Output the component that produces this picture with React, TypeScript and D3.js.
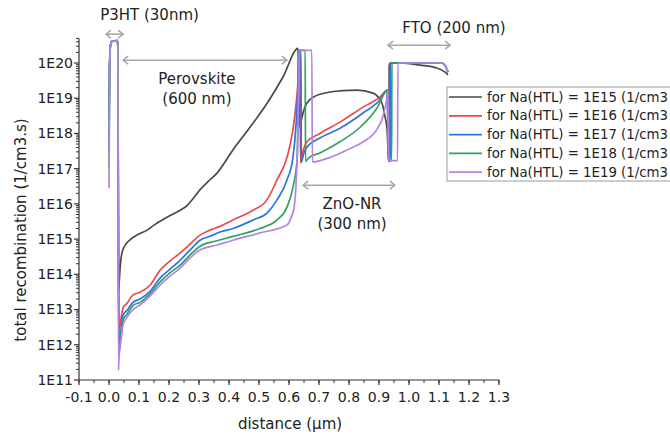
import React from 'react';
import * as d3 from 'd3';

const W = 670;
const H = 437;

const xTickValues = [-0.1, 0.0, 0.1, 0.2, 0.3, 0.4, 0.5, 0.6, 0.7, 0.8, 0.9, 1.0, 1.1, 1.2, 1.3];
const xTickLabels = ['-0.1', '0.0', '0.1', '0.2', '0.3', '0.4', '0.5', '0.6', '0.7', '0.8', '0.9', '1.0', '1.1', '1.2', '1.3'];
const yTickValues = [1e11, 1e12, 1e13, 1e14, 1e15, 1e16, 1e17, 1e18, 1e19, 1e20];
const yTickLabels = ['1E11', '1E12', '1E13', '1E14', '1E15', '1E16', '1E17', '1E18', '1E19', '1E20'];

const seriesLabels = [
  'for Na(HTL) = 1E15 (1/cm3',
  'for Na(HTL) = 1E16 (1/cm3',
  'for Na(HTL) = 1E17 (1/cm3',
  'for Na(HTL) = 1E18 (1/cm3',
  'for Na(HTL) = 1E19 (1/cm3',
];
const seriesColors = ['#4a4a4a', '#f0474a', '#2a76e0', '#2fa35e', '#b583e6'];

type P = [number, number];

const na1e15: P[] = [
  [0.0, 3.8e18], [0.002, 8e19], [0.005, 3.2e20], [0.01, 4.1e20], [0.028, 4.3e20], [0.0295, 3.0e20],
  [0.031, 2e16], [0.032, 3.5e13], [0.034, 6e13], [0.037, 1.5e14], [0.043, 4.0e14], [0.055, 7e14],
  [0.07, 9.5e14], [0.1, 1.4e15], [0.127, 1.8e15], [0.15, 2.5e15], [0.18, 3.6e15], [0.21, 5.0e15],
  [0.237, 6.6e15], [0.26, 9e15], [0.28, 1.4e16], [0.303, 2.5e16], [0.33, 4.3e16], [0.36, 7.5e16],
  [0.413, 3.4e17], [0.47, 1.5e18], [0.527, 7.2e18], [0.58, 4.0e19], [0.63, 2.6e20], [0.633, 1e19],
  [0.636, 1.5e18], [0.642, 2.6e18], [0.653, 5.6e18], [0.68, 1.07e19], [0.737, 1.5e19], [0.78, 1.65e19],
  [0.827, 1.7e19], [0.88, 1.4e19], [0.91, 7.2e18], [0.92, 3.0e18], [0.927, 1.3e18], [0.93, 3.4e17],
  [0.933, 1.6e17], [0.934, 8e19], [0.937, 1e20], [0.97, 1e20], [1.037, 8.7e19], [1.093, 7.2e19],
  [1.12, 5.5e19], [1.13, 4.6e19],
];

const na1e16: P[] = [
  [0.0, 1e18], [0.002, 8e19], [0.005, 3.2e20], [0.01, 4.1e20], [0.028, 4.3e20], [0.0295, 3.0e20],
  [0.031, 1e16], [0.0317, 1.9e12], [0.0367, 3.6e12], [0.0467, 1.1e13], [0.06, 1.5e13], [0.08, 2.6e13],
  [0.1033, 3.1e13], [0.1367, 4.9e13], [0.17, 1.3e14], [0.2033, 2.4e14], [0.2367, 4.0e14], [0.27, 7.2e14],
  [0.3033, 1.3e15], [0.3367, 1.8e15], [0.37, 2.3e15], [0.4133, 3.5e15], [0.48, 6.6e15], [0.5267, 1.3e16],
  [0.56, 4.8e16], [0.5933, 2.1e17], [0.6133, 1.3e18], [0.6233, 6.5e18], [0.63, 3.3e19], [0.6333, 2.3e20],
  [0.637, 2.3e20], [0.638, 1.5e17], [0.645, 2.8e17], [0.66, 5.8e17], [0.703, 1.0e18], [0.77, 2.1e18],
  [0.847, 5.6e18], [0.903, 1.07e19], [0.928, 1.7e19], [0.931, 1.7e17], [0.936, 1.7e17], [0.937, 1e20],
  [1.11, 1e20], [1.12, 8.5e19], [1.13, 5.5e19],
];

const na1e17: P[] = [
  [0.0, 3e17], [0.002, 8e19], [0.005, 3.2e20], [0.01, 4.1e20], [0.028, 4.3e20], [0.0295, 3.0e20],
  [0.031, 1e16], [0.0333, 9.8e11], [0.04, 2.6e12], [0.0467, 6.9e12], [0.06, 9.5e12], [0.08, 1.6e13],
  [0.1033, 2.0e13], [0.1367, 3.3e13], [0.17, 7.8e13], [0.2033, 1.4e14], [0.2367, 2.5e14], [0.27, 4.9e14],
  [0.3033, 9.3e14], [0.3367, 1.2e15], [0.37, 1.6e15], [0.4133, 2.0e15], [0.48, 3.5e15], [0.5267, 5.5e15],
  [0.56, 1.3e16], [0.5933, 4.8e16], [0.6133, 2.1e17], [0.6233, 1.7e18], [0.63, 2.4e19], [0.6333, 2.3e20],
  [0.64, 2.3e20], [0.641, 1.5e17], [0.648, 2.5e17], [0.66, 4.1e17], [0.703, 7.4e17], [0.77, 1.4e18],
  [0.847, 3.8e18], [0.903, 8.9e18], [0.928, 1.7e19], [0.931, 1.7e17], [0.938, 1.7e17], [0.939, 1e20],
  [1.11, 1e20], [1.12, 8.5e19], [1.13, 5.5e19],
];

const na1e18: P[] = [
  [0.0, 1e17], [0.002, 8e19], [0.005, 3.2e20], [0.01, 4.1e20], [0.028, 4.3e20], [0.0295, 3.0e20],
  [0.031, 1e16], [0.0333, 6.2e11], [0.04, 1.9e12], [0.0467, 5.0e12], [0.06, 7.4e12], [0.08, 1.3e13],
  [0.1033, 1.6e13], [0.1367, 2.8e13], [0.17, 6.0e13], [0.2033, 1.1e14], [0.2367, 1.8e14], [0.27, 3.5e14],
  [0.3033, 6.3e14], [0.3533, 8.7e14], [0.4133, 1.2e15], [0.5033, 2.0e15], [0.56, 3.5e15], [0.5933, 8.1e15],
  [0.6133, 3.0e16], [0.6267, 1.7e17], [0.63, 3.0e18], [0.6333, 2.3e20], [0.654, 2.3e20], [0.655, 1.6e17],
  [0.665, 2.0e17], [0.703, 2.8e17], [0.77, 5.8e17], [0.837, 1.5e18], [0.893, 5.2e18], [0.928, 1.7e19],
  [0.931, 1.7e17], [0.942, 1.7e17], [0.943, 1e20], [1.11, 1e20], [1.12, 8.5e19], [1.13, 5.5e19],
];

const na1e19: P[] = [
  [0.0, 2.8e16], [0.002, 8e19], [0.005, 3.2e20], [0.01, 4.1e20], [0.028, 4.3e20], [0.0295, 3.0e20],
  [0.0315, 1.9e11], [0.0333, 4.2e11], [0.04, 1.35e12], [0.0467, 3.6e12], [0.06, 6.0e12], [0.08, 1.0e13],
  [0.1033, 1.35e13], [0.1367, 2.4e13], [0.17, 4.9e13], [0.2033, 8.9e13], [0.2367, 1.5e14], [0.27, 2.9e14],
  [0.3033, 4.9e14], [0.36, 6.8e14], [0.4133, 9.3e14], [0.5033, 1.5e15], [0.5933, 2.5e15], [0.6067, 4.0e15],
  [0.6167, 7.6e15], [0.6233, 3.4e16], [0.63, 1.3e18], [0.6333, 1.2e20], [0.636, 2.3e20], [0.676, 2.3e20],
  [0.678, 1.55e17], [0.737, 2.1e17], [0.793, 3.4e17], [0.847, 5.8e17], [0.893, 1.3e18], [0.913, 3.0e18],
  [0.927, 1.07e19], [0.93, 1.7e19], [0.932, 1.7e17], [0.962, 1.7e17], [0.963, 1e20], [1.11, 1e20],
  [1.12, 8.5e19], [1.13, 5.5e19],
];

const allSeries = [na1e15, na1e16, na1e17, na1e18, na1e19];

// layer annotations: [x0, x1] in µm, arrow level in 1/cm3.s
const layerArrows = [
  { x0: -0.01, x1: 0.047, y: 6.6e20 },
  { x0: 0.047, x1: 0.593, y: 1.2e20 },
  { x0: 0.647, x1: 0.953, y: 3.4e16 },
  { x0: 0.93, x1: 1.137, y: 3.2e20 },
];
const layerLabels = [
  { x: 0.135, y: 2.3e21, lines: ['P3HT (30nm)'] },
  { x: 0.293, y: 3.5e19, lines: ['Perovskite', '(600 nm)'] },
  { x: 0.81, y: 1.0e16, lines: ['ZnO-NR', '(300 nm)'] },
  { x: 1.15, y: 1.0e21, lines: ['FTO (200 nm)'] },
];

const FONT = '"DejaVu Sans", Verdana, sans-serif';

export default function App() {
  const x = d3.scaleLinear().domain([-0.1, 1.3]).range([79, 499]);
  const y = d3.scaleLog().domain([1e11, 5e20]).range([380, 38.4]);
  const line = d3
    .line<P>()
    .x((d) => x(d[0]))
    .y((d) => y(d[1]))
    .curve(d3.curveMonotoneX);

  const xMinor = d3.range(-0.1, 1.3001, 0.05);
  const yMinor: number[] = [];
  for (let e = 11; e <= 20; e++) {
    for (let m = 2; m <= 9; m++) {
      const v = m * Math.pow(10, e);
      if (v <= 5e20) yMinor.push(v);
    }
  }

  const arrowColor = '#a8a8a8';
  const axisColor = '#333';
  const x0 = x.range()[0];
  const yb = y.range()[0];

  const legendX = 447;
  const legendY = 87;
  const rowH = 18.8;

  return (
    <svg
      width={W}
      height={H}
      style={{ position: 'fixed', left: 0, top: 0, background: '#fff' }}
      fontFamily={FONT}
    >
      <rect width={W} height={H} fill="#fff" />
      {/* series */}
      {allSeries.map((s, i) => (
        <path
          key={i}
          d={line(s) || ''}
          fill="none"
          stroke={seriesColors[i]}
          strokeWidth={1.7}
          strokeLinejoin="round"
        />
      ))}

      {/* axes */}
      <line x1={x0} x2={x0} y1={yb} y2={y.range()[1]} stroke={axisColor} strokeWidth={1.2} />
      <line x1={x0} x2={x.range()[1]} y1={yb} y2={yb} stroke={axisColor} strokeWidth={1.2} />
      {yMinor.map((v, i) => (
        <line key={'ym' + i} x1={x0 - 3} x2={x0} y1={y(v)} y2={y(v)} stroke={axisColor} strokeWidth={1} />
      ))}
      {yTickValues.map((v, i) => (
        <g key={'yt' + i}>
          <line x1={x0 - 5} x2={x0} y1={y(v)} y2={y(v)} stroke={axisColor} strokeWidth={1.2} />
          <text x={x0 - 6} y={y(v)} dy="0.35em" textAnchor="end" fontSize={14} fill="#222">
            {yTickLabels[i]}
          </text>
        </g>
      ))}
      {xMinor.map((v, i) => (
        <line key={'xm' + i} x1={x(v)} x2={x(v)} y1={yb} y2={yb + 3} stroke={axisColor} strokeWidth={1} />
      ))}
      {xTickValues.map((v, i) => (
        <g key={'xt' + i}>
          <line x1={x(v)} x2={x(v)} y1={yb} y2={yb + 5} stroke={axisColor} strokeWidth={1.2} />
          <text x={x(v)} y={yb + 22} textAnchor="middle" fontSize={14} fill="#222">
            {xTickLabels[i]}
          </text>
        </g>
      ))}
      <text
        transform={`translate(26, 230) rotate(-90)`}
        textAnchor="middle"
        fontSize={15}
        fill="#222"
      >
        total recombination (1/cm3.s)
      </text>
      <text x={290} y={429} textAnchor="middle" fontSize={15} fill="#222">
        distance (µm)
      </text>

      {/* layer arrows */}
      {layerArrows.map((a, i) => {
        const ax0 = x(a.x0);
        const ax1 = x(a.x1);
        const ay = y(a.y);
        return (
          <g key={'ar' + i} stroke={arrowColor} strokeWidth={1.6} fill="none">
            <line x1={ax0} x2={ax1} y1={ay} y2={ay} />
            <path d={`M${ax0 + 5},${ay - 4} L${ax0},${ay} L${ax0 + 5},${ay + 4}`} />
            <path d={`M${ax1 - 5},${ay - 4} L${ax1},${ay} L${ax1 - 5},${ay + 4}`} />
          </g>
        );
      })}
      {layerLabels.map((l, i) => (
        <text key={'ll' + i} x={x(l.x)} y={y(l.y)} textAnchor="middle" fontSize={15} fill="#222">
          {l.lines.map((t, j) => (
            <tspan key={j} x={x(l.x)} dy={j === 0 ? '0.35em' : 20}>
              {t}
            </tspan>
          ))}
        </text>
      ))}

      {/* legend */}
      <rect x={legendX} y={legendY} width={260} height={rowH * 5} fill="#fff" stroke="#999" strokeWidth={1} />
      {seriesLabels.map((t, i) => (
        <g key={'lg' + i}>
          <line
            x1={legendX + 2}
            x2={legendX + 35}
            y1={legendY + 10 + i * rowH}
            y2={legendY + 10 + i * rowH}
            stroke={seriesColors[i]}
            strokeWidth={1.7}
          />
          <text x={legendX + 40} y={legendY + 10 + i * rowH} dy="0.35em" fontSize={13.3} fill="#222">
            {t}
          </text>
        </g>
      ))}
    </svg>
  );
}
